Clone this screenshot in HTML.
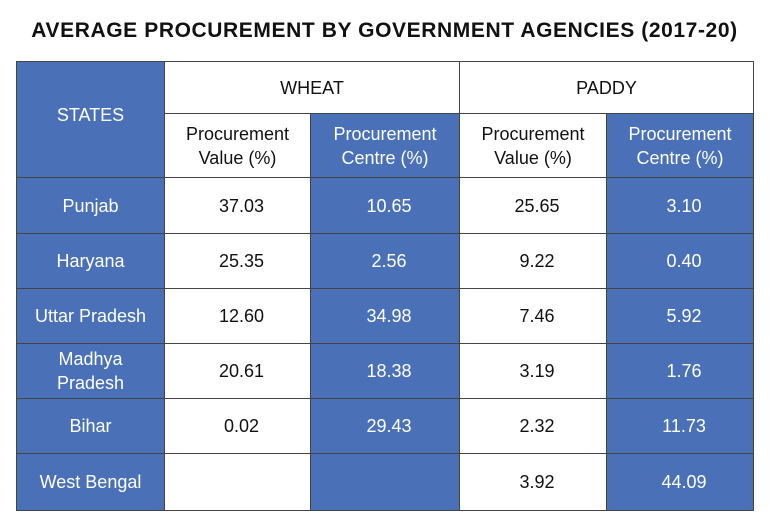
<!DOCTYPE html>
<html><head><meta charset="utf-8"><style>
body{margin:0;width:769px;height:523px;background:#fff;font-family:"Liberation Sans",sans-serif;position:relative;overflow:hidden}
.t{position:absolute;left:0;width:769px;top:19px;text-align:center;font-weight:bold;font-size:21px;color:#111;letter-spacing:0.6px}
.c{position:absolute;display:flex;align-items:center;justify-content:center;text-align:center;font-size:18px;line-height:24px;box-sizing:border-box;border-right:1px solid #444;border-bottom:1px solid #444}
.b{background:#4a71b7;color:#fff}
.w{background:#fff;color:#111}
</style></head><body>
<div class="t">AVERAGE PROCUREMENT BY GOVERNMENT AGENCIES (2017-20)</div>
<div style="position:absolute;left:16px;top:61px;width:738px;height:450px;border-left:1px solid #444;border-top:1px solid #444;box-sizing:border-box">
<div class="c b" style="left:0;top:0;width:148px;height:116px;padding-bottom:10px">STATES</div>
<div class="c w" style="left:148px;top:0;width:295px;height:52px">WHEAT</div>
<div class="c w" style="left:443px;top:0;width:294px;height:52px">PADDY</div>
<div class="c w" style="left:148px;top:52px;width:146px;height:64px">Procurement<br>Value (%)</div>
<div class="c b" style="left:294px;top:52px;width:149px;height:64px">Procurement<br>Centre (%)</div>
<div class="c w" style="left:443px;top:52px;width:147px;height:64px">Procurement<br>Value (%)</div>
<div class="c b" style="left:590px;top:52px;width:147px;height:64px">Procurement<br>Centre (%)</div>
<div id="rows"></div>
</div>
<script>
const states=["Punjab","Haryana","Uttar Pradesh","Madhya<br>Pradesh","Bihar","West Bengal"];
const wheatValue=["37.03","25.35","12.60","20.61","0.02",""];
const wheatCentre=["10.65","2.56","34.98","18.38","29.43",""];
const paddyValue=["25.65","9.22","7.46","3.19","2.32","3.92"];
const paddyCentre=["3.10","0.40","5.92","1.76","11.73","44.09"];
const rowTops=[116,172,227,282,337,392];
const rowH=[56,55,55,55,55,57];
const cols=[[0,148,'b'],[148,146,'w'],[294,149,'b'],[443,147,'w'],[590,147,'b']];
const host=document.getElementById('rows');
states.forEach((s,i)=>{
  const vals=[s,wheatValue[i],wheatCentre[i],paddyValue[i],paddyCentre[i]];
  const names=['state','wheat-value','wheat-centre','paddy-value','paddy-centre'];
  cols.forEach((c,j)=>{
    const d=document.createElement('div');
    d.className='c '+c[2];
    d.style.cssText=`left:${c[0]}px;top:${rowTops[i]}px;width:${c[1]}px;height:${rowH[i]}px;`+(j>0?'padding-left:8px;':'');
    d.innerHTML=vals[j];
    
    
    host.appendChild(d);
  });
});
</script>
</body></html>
